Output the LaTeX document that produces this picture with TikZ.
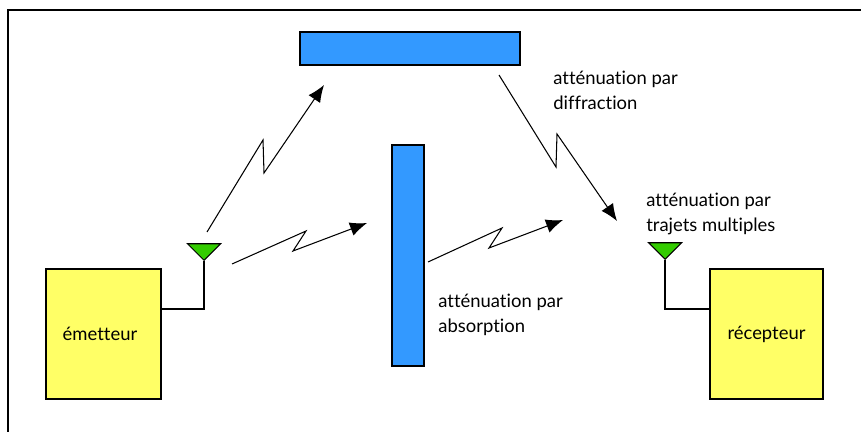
\documentclass[tikz,border=0pt]{standalone}
\usepackage{fontspec}
\setmainfont{Lato}[Ligatures=NoCommon]
\usepackage{xcolor}
\usetikzlibrary{shapes.geometric,arrows.meta,positioning}
\definecolor{ecranblue}{RGB}{51,153,255}
\definecolor{boxyellow}{RGB}{255,255,102}
\definecolor{antgreen}{RGB}{51,204,0}

\begin{document}
\begin{tikzpicture}[
  x=0.02cm,y=-0.02cm,
  font=\fontsize{10.5}{14.1}\selectfont,
  bloc/.style={rectangle,draw,line width=0.8pt,fill=boxyellow,align=center,minimum height=2.6cm,inner sep=0pt},
  ecran/.style={rectangle,draw,line width=0.8pt,fill=ecranblue,inner sep=0pt},
  ant/.style={isosceles triangle,isosceles triangle apex angle=90,shape border rotate=270,draw,line width=0.6pt,fill=antgreen,inner sep=0pt,minimum height=0.33cm,minimum width=0.66cm,anchor=apex},
  wire/.style={line width=0.8pt},
  eclair/.style={-{Latex[length=3.4mm,width=2.8mm]},line width=0.6pt},
  lbl/.style={align=left,anchor=west,inner sep=0pt}
]
\useasboundingbox (0,0) rectangle (861,432);
\draw[line width=1.2pt] (8,432) -- (8,10) -- (861,10);

\node[ecran,minimum width=4.4cm,minimum height=0.66cm] (top) at (410,48.5) {};
\node[ecran,minimum width=0.64cm,minimum height=4.42cm] (mur) at (408,255.5) {};
\node[bloc,minimum width=2.3cm] (em) at (103.5,334) {émetteur\kern4pt};
\node[bloc,minimum width=2.26cm] (rec) at (766.5,334) {récepteur};
\node[ant] (antem) at (204,261) {};
\node[ant] (antrec) at (665,260) {};

\draw[wire] (antem.apex) |- ([yshift=0.5cm]em.east);
\draw[wire] (antrec.apex) |- ([yshift=0.5cm]rec.west);

% liaisons
\coordinate (a1) at (207,232);
\coordinate (a2) at (324,85);
\draw[eclair] (a1) -- (263,140) -- (264,173) -- (a2);
\coordinate (b1) at (232,264);
\coordinate (b2) at (367,223);
\draw[eclair] (b1) -- (306,231) -- (293,251) -- (b2);
\coordinate (c1) at (428,262);
\coordinate (c2) at (563,220);
\draw[eclair] (c1) -- (502,228) -- (489,248) -- (c2);
\coordinate (d1) at (499,75);
\coordinate (d2) at (617,221);
\draw[eclair] (d1) -- (556,167) -- (557,134) -- (d2);

\node[lbl] (lbldiff) at (553,90) {atténuation par\\diffraction};
\node[lbl] (lbltraj) at (646,214) {atténuation par\\trajets multiples};
\node[lbl] (lblabs) at (438,315) {atténuation par\\absorption};
\end{tikzpicture}
\end{document}
